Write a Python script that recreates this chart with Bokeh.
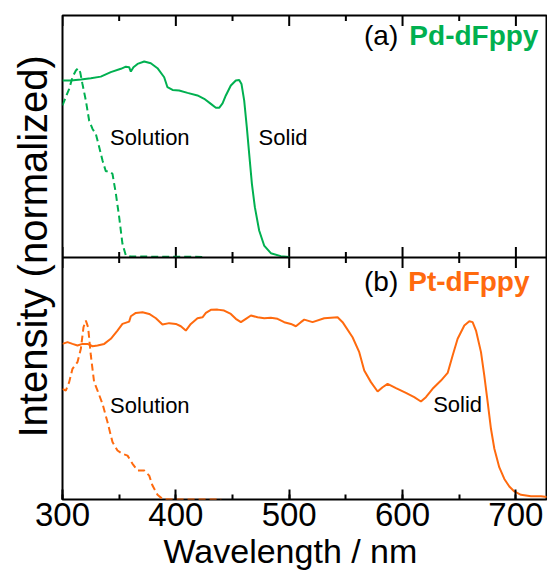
import numpy as np
from bokeh.plotting import figure
from bokeh.models import Range1d, SingleIntervalTicker, Span, Title
from bokeh.core.properties import value
from bokeh.embed import file_html
from bokeh.resources import INLINE

# ---------------- data (normalized intensity) ----------------
# (a) Pd-dFppy, solid state
pd_solid_wl = [300, 307.4, 316.2, 325, 333.8, 342.6, 351.5, 355.9, 358.8, 360.3, 362.6, 366.2,
               372.1, 377.9, 383.8, 389.7, 392.6, 397.1, 402.9, 410.3, 419.1, 425, 430.9, 435.3,
               438.2, 441.2, 444.1, 448.5, 452.9, 455.9, 457.9, 460.3, 462.6, 464.7, 467.1, 469.7,
               473.5, 477.9, 483.8, 492.6, 500]
pd_solid_int = [0.903, 0.903, 0.908, 0.915, 0.923, 0.946, 0.963, 0.974, 0.971, 0.949, 0.971, 0.988,
                1.0, 0.991, 0.966, 0.920, 0.869, 0.855, 0.852, 0.840, 0.827, 0.810, 0.784, 0.764,
                0.764, 0.787, 0.827, 0.878, 0.903, 0.906, 0.886, 0.801, 0.665, 0.529, 0.376, 0.257,
                0.138, 0.061, 0.022, 0.007, 0.003]
# (a) Pd-dFppy, solution
pd_sol_wl = [300, 302.9, 305.9, 308.8, 311.8, 313.8, 315.6, 317.6, 320.6, 323.5, 326.5, 329.4,
             332.4, 335.3, 338.2, 341.2, 344.1, 347.1, 350, 352.9, 355.9, 360.3, 425]
pd_sol_int = [0.776, 0.818, 0.861, 0.920, 0.954, 0.966, 0.946, 0.886, 0.801, 0.699, 0.656, 0.631,
              0.563, 0.495, 0.440, 0.440, 0.427, 0.325, 0.206, 0.070, 0.010, 0.005, 0.003]

# (b) Pt-dFppy, solid state
pt_solid_wl = [300, 304.4, 308.8, 313.2, 317.6, 322.1, 326.5, 330.9, 336.8, 342.6, 348.5, 352.9,
               358.8, 360.3, 364.7, 370.6, 376.5, 382.4, 388.2, 394.1, 400, 404.4, 408.8, 413.2,
               419.1, 423.5, 426.5, 430.9, 436.8, 442.6, 448.5, 452.9, 457.4, 461.8, 466.2, 472.1,
               478, 483.8, 489.7, 495.6, 501.5, 505.9, 510.3, 513.3, 520.6, 530.9, 539.8, 542.7,
               547.1, 555.9, 561.8, 566.2, 572.1, 578, 582.4, 586.8, 594.2, 603, 610.3, 616.2,
               620.6, 626.5, 633.9, 639.8, 644.2, 648.6, 654.5, 658.9, 661.8, 664.8, 669.2, 672.1,
               675.1, 678, 681, 685.3, 689.8, 694.2, 698.6, 704.5, 713.3, 722.1, 728]
pt_solid_int = [0.794, 0.803, 0.794, 0.786, 0.794, 0.794, 0.782, 0.786, 0.794, 0.820, 0.862, 0.896,
                0.908, 0.935, 0.952, 0.956, 0.947, 0.925, 0.893, 0.900, 0.896, 0.884, 0.862, 0.896,
                0.925, 0.930, 0.952, 0.968, 0.969, 0.964, 0.947, 0.922, 0.905, 0.922, 0.939, 0.930,
                0.925, 0.927, 0.922, 0.905, 0.896, 0.884, 0.905, 0.918, 0.905, 0.925, 0.929, 0.930,
                0.905, 0.828, 0.752, 0.658, 0.599, 0.551, 0.573, 0.590, 0.568, 0.544, 0.522, 0.500,
                0.522, 0.565, 0.607, 0.646, 0.735, 0.820, 0.888, 0.910, 0.905, 0.862, 0.752, 0.633,
                0.497, 0.361, 0.259, 0.165, 0.105, 0.066, 0.041, 0.024, 0.017, 0.017, 0.012]
# (b) Pt-dFppy, solution
pt_sol_wl = [300, 302.9, 305.9, 308.8, 313.2, 316.2, 318.5, 320.6, 322.6, 325, 327.9, 330.9,
             335.3, 339.7, 344.1, 348.5, 352.9, 357.4, 361.8, 366.2, 372.1, 376.5, 379.4, 383.8,
             388.2, 395.6, 440]
pt_sol_int = [0.565, 0.556, 0.599, 0.667, 0.701, 0.769, 0.879, 0.913, 0.879, 0.735, 0.599, 0.556,
              0.488, 0.395, 0.293, 0.250, 0.233, 0.224, 0.182, 0.148, 0.148, 0.122, 0.071, 0.024,
              0.003, 0.0, 0.0]

x_ticks_major = [300, 400, 500, 600, 700]
x_ticks_minor = [350, 450, 550, 650]

# ---------------- styling ----------------
GREEN = "#00b050"
ORANGE = "#ff6a0e"
FONT = "Liberation Sans"
PANEL = 1.235  # height of one panel in normalized-intensity units

p = figure(width=547, height=571, output_backend="svg", toolbar_location=None,
           x_range=Range1d(300, 727), y_range=Range1d(0, 2 * PANEL),
           min_border_left=62, min_border_right=1, min_border_top=15, min_border_bottom=72)
p.extra_y_ranges = {"top": Range1d(-PANEL, PANEL)}
p.grid.visible = False
p.outline_line_color = "black"
p.outline_line_width = 2
p.background_fill_color = "white"
p.border_fill_color = "white"

xb = p.xaxis[0]
xb.ticker = SingleIntervalTicker(interval=100, num_minor_ticks=2)
xb.axis_line_color = None
xb.major_tick_in = 10
xb.major_tick_out = 0
xb.minor_tick_in = 5
xb.minor_tick_out = 0
xb.major_tick_line_width = 2
xb.minor_tick_line_width = 2
xb.major_tick_line_color = "black"
xb.minor_tick_line_color = "black"
xb.major_label_text_font = FONT
xb.major_label_text_font_size = "33px"
xb.major_label_text_color = "black"
xb.major_label_standoff = 3
xb.major_label_text_line_height = 1.0

p.add_layout(Title(text="Wavelength / nm", align="left", offset=101,
                   text_font=FONT, text_font_size="34px", text_font_style="normal",
                   text_color="black", standoff=3), "below")

p.yaxis.visible = False
p.add_layout(Title(text="Intensity (normalized)", align="left", offset=62,
                   text_font=FONT, text_font_size="40px", text_font_style="normal",
                   text_color="black", standoff=16), "left")

# inward ticks on the top edge (half of each marker is clipped by the frame)
for ticks, sz in ((x_ticks_major, 21), (x_ticks_minor, 11)):
    p.scatter(x=ticks, y=[2 * PANEL] * len(ticks), marker="dash", angle=np.pi / 2,
              size=sz, line_color="black", line_width=2)

# separator between the two panels, with inward ticks on both sides
p.add_layout(Span(location=PANEL, dimension="width", line_color="black", line_width=2))
for ticks, sz in ((x_ticks_major, 21), (x_ticks_minor, 11)):
    p.scatter(x=ticks, y=[PANEL] * len(ticks), marker="dash", angle=np.pi / 2,
              size=sz, line_color="black", line_width=2)

# (a) top panel
p.line(pd_solid_wl, pd_solid_int, y_range_name="top", line_color=GREEN, line_width=2)
p.line(pd_sol_wl, pd_sol_int, y_range_name="top", line_color=GREEN, line_width=2,
       line_dash="7 4")
# (b) bottom panel
p.line(pt_solid_wl, pt_solid_int, line_color=ORANGE, line_width=2)
p.line(pt_sol_wl, pt_sol_int, line_color=ORANGE, line_width=2, line_dash="7 4")

def txt(x, y, s, color="black", size="22px", style="normal", rng=None, baseline="middle"):
    kw = {"y_range_name": rng} if rng else {}
    p.text(x=[x], y=[y], text=[s], text_font=value(FONT), text_font_size=size,
           text_font_style=style, text_color=color, text_align="left",
           text_baseline=baseline, **kw)

# panel titles
txt(566, 1.135, "(a)", size="28px", rng="top")
txt(606, 1.135, "Pd-dFppy", color=GREEN, size="28px", style="bold", rng="top")
txt(566, 1.115, "(b)", size="28px")
txt(605, 1.115, "Pt-dFppy", color=ORANGE, size="28px", style="bold")

# curve labels
txt(342, 0.612, "Solution", rng="top")
txt(473, 0.612, "Solid", rng="top")
txt(342, 0.480, "Solution")
txt(627, 0.483, "Solid")

open("out.html", "w").write(file_html(p, INLINE))
